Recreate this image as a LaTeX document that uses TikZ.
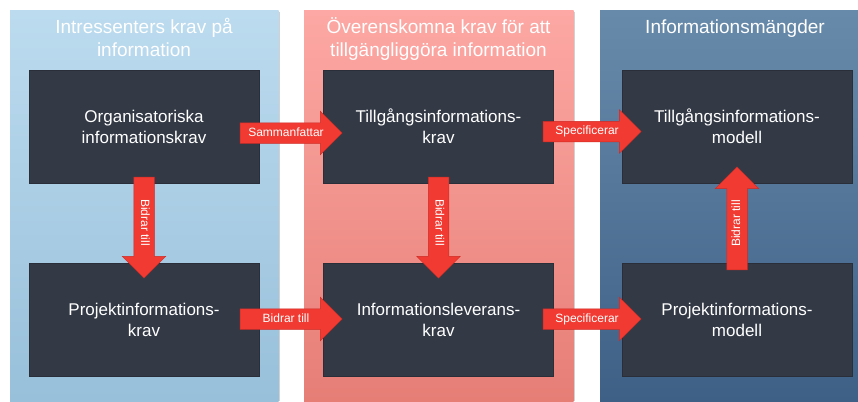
\documentclass[tikz,border=0pt]{standalone}
\usepackage{fontspec}
\setmainfont{Liberation Sans}
\usetikzlibrary{shapes.arrows}
\definecolor{pAtop}{RGB}{188,219,239}
\definecolor{pAbot}{RGB}{152,192,218}
\definecolor{pBtop}{RGB}{253,168,164}
\definecolor{pBbot}{RGB}{230,126,118}
\definecolor{pCtop}{RGB}{104,138,170}
\definecolor{pCbot}{RGB}{62,96,134}
\definecolor{boxdark}{RGB}{51,58,70}
\definecolor{arrred}{RGB}{241,59,50}
\definecolor{arrline}{RGB}{205,42,36}
\tikzset{
  panel/.style={draw=none},
  title/.style={text=white, font=\fontsize{19}{23}\selectfont, align=center, inner sep=0pt, anchor=north},
  infobox/.style={fill=boxdark, draw=boxdark!80!black, line width=0.4pt, minimum width=230pt, minimum height=113pt,
    text=white, font=\fontsize{17}{21}\selectfont, align=center, inner sep=0pt},
  blockarrow/.style={single arrow, fill=arrred, draw=arrline, line width=0.5pt,
    single arrow head extend=11.5pt, single arrow tip angle=90,
    text=white, font=\fontsize{12}{14}\selectfont, text height=8.5pt, text depth=2.5pt,
    inner ysep=4.5pt, inner xsep=2pt, anchor=center},
}
\begin{document}
\begin{tikzpicture}[x=1pt,y=-1pt]
\useasboundingbox (0,0) rectangle (858,401);
\fill[white] (0,0) rectangle (858,401);
% panel shadows
\fill[black!18] (11.5,12) rectangle (280,401);
\fill[black!18] (305.5,12) rectangle (575,401);
\fill[black!18] (601.5,12) rectangle (858,401);
% panels
\shade[panel, top color=pAtop, bottom color=pAbot] (10,11) rectangle (278.5,401);
\shade[panel, top color=pBtop, bottom color=pBbot] (304,11) rectangle (573.5,401);
\shade[panel, top color=pCtop, bottom color=pCbot] (600,11) rectangle (858,401);
% titles
\node[title] (t1) at (144,15) {\rule{0pt}{18pt}Intressenters krav på\\information};
\node[title] (t2) at (438.5,15) {\rule{0pt}{18pt}Överenskomna krav för att\\tillgängliggöra information};
\node[title] (t3) at (735,15) {\rule{0pt}{18pt}Informationsmängder};
% boxes
\node[infobox] (b1) at (144,126.5) {Organisatoriska\\informationskrav};
\node[infobox] (b2) at (438.5,126.5) {Tillgångsinformations-\\krav};
\node[infobox] (b3) at (737,126.5) {Tillgångsinformations-\\modell};
\node[infobox] (b4) at (144,319.5) {Projektinformations-\\krav};
\node[infobox] (b5) at (438.5,319.5) {Informationsleverans-\\krav};
\node[infobox] (b6) at (737,319.5) {Projektinformations-\\modell};
% arrows
\node[blockarrow, minimum height=102pt] (a1) at (286,133) {Sammanfattar};
\node[blockarrow, minimum height=98pt] (a2) at (587,131.5) {Specificerar};
\node[blockarrow, minimum height=102pt] (a3) at (286,319) {Bidrar till};
\node[blockarrow, minimum height=98pt] (a4) at (587,319) {Specificerar};
\node[blockarrow, minimum height=101pt, rotate=-90] (a5) at (144,222.5) {Bidrar till};
\node[blockarrow, minimum height=101pt, rotate=-90] (a6) at (438.5,222.5) {Bidrar till};
\node[blockarrow, minimum height=103pt, rotate=90] (a7) at (737,223.5) {Bidrar till};
\end{tikzpicture}
\end{document}
